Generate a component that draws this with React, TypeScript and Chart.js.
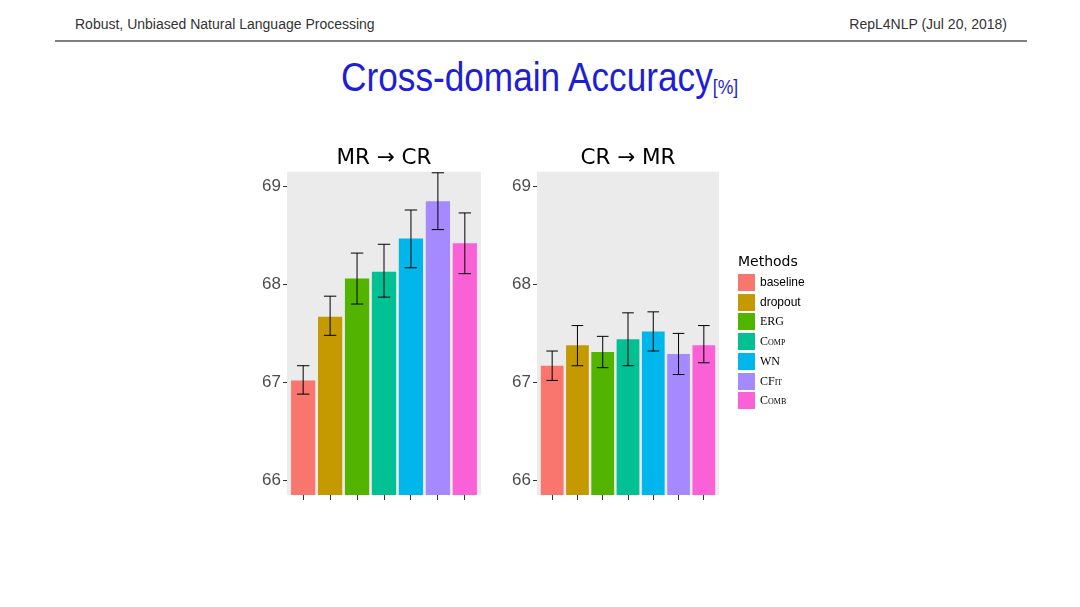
import React, { useEffect, useRef } from "react";
import { Chart, registerables } from "chart.js";

Chart.register(...registerables);

const methods = ["baseline", "dropout", "ERG", "Comp", "WN", "CFit", "Comb"];
const methodSerif = [false, false, true, true, true, true, true];
const methodColors = ["#F8766D", "#C49A00", "#53B400", "#00C094", "#00B6EB", "#A58AFF", "#FB61D7"];

const mrToCrMean = [67.02, 67.67, 68.06, 68.13, 68.47, 68.85, 68.42];
const mrToCrLow = [66.88, 67.48, 67.8, 67.87, 68.17, 68.56, 68.11];
const mrToCrHigh = [67.17, 67.88, 68.32, 68.41, 68.76, 69.14, 68.73];

const crToMrMean = [67.17, 67.38, 67.31, 67.44, 67.52, 67.29, 67.38];
const crToMrLow = [67.02, 67.17, 67.15, 67.17, 67.32, 67.08, 67.2];
const crToMrHigh = [67.32, 67.58, 67.47, 67.71, 67.72, 67.5, 67.58];

const yTicks = [66, 67, 68, 69];
const yMin = 65.85;
const yMax = 69.15;

const panelBackground = {
  id: "panelBackground",
  beforeDraw(chart: any) {
    const { ctx, chartArea } = chart;
    ctx.save();
    ctx.fillStyle = "#EBEBEB";
    ctx.fillRect(chartArea.left, chartArea.top, chartArea.right - chartArea.left, chartArea.bottom - chartArea.top);
    ctx.restore();
  },
};

const errorBars = {
  id: "errorBars",
  afterDatasetsDraw(chart: any, _args: any, opts: any) {
    const { ctx } = chart;
    const x = chart.scales.x;
    const y = chart.scales.y;
    const low: number[] = opts.low || [];
    const high: number[] = opts.high || [];
    ctx.save();
    ctx.strokeStyle = "#000000";
    ctx.lineWidth = 1;
    low.forEach((lo, i) => {
      const cx = x.getPixelForValue(i + 1);
      const hw = x.getPixelForValue(i + 1 + 0.23) - cx;
      const yl = y.getPixelForValue(lo);
      const yh = y.getPixelForValue(high[i]);
      ctx.beginPath();
      ctx.moveTo(cx, yl);
      ctx.lineTo(cx, yh);
      ctx.moveTo(cx - hw, yl);
      ctx.lineTo(cx + hw, yl);
      ctx.moveTo(cx - hw, yh);
      ctx.lineTo(cx + hw, yh);
      ctx.stroke();
    });
    ctx.restore();
  },
};

function Panel(props: {
  title: string;
  mean: number[];
  low: number[];
  high: number[];
  left: number;
  top: number;
  width: number;
  height: number;
  pad: number;
}) {
  const ref = useRef<HTMLCanvasElement | null>(null);
  useEffect(() => {
    if (!ref.current) return;
    const chart = new Chart(ref.current, {
      type: "bar",
      data: {
        datasets: [
          {
            data: props.mean.map((v, i) => ({ x: i + 1, y: v })),
            backgroundColor: methodColors,
            borderWidth: 0,
            categoryPercentage: 1,
            barPercentage: 0.9,
          } as any,
        ],
      },
      options: {
        animation: false,
        responsive: false,
        layout: { padding: { left: props.pad, right: props.pad, top: 0, bottom: 0 } },
        plugins: {
          legend: { display: false },
          tooltip: { enabled: false },
          title: {
            display: true,
            text: props.title,
            color: "#000000",
            font: { family: "DejaVu Sans", size: 21.5, weight: "normal" },
            padding: { top: 6, bottom: 0 },
          },
          errorBars: { low: props.low, high: props.high },
        } as any,
        scales: {
          x: {
            type: "linear",
            min: 0.4,
            max: 7.6,
            offset: false,
            afterBuildTicks: (scale: any) => {
              scale.ticks = props.mean.map((_v, i) => ({ value: i + 1 }));
            },
            afterFit: (scale: any) => {
              scale.height = 17;
            },
            ticks: { callback: () => "", padding: 0, font: { size: 1 } },
            grid: { drawOnChartArea: false, drawTicks: true, tickLength: 5, color: "#333333", offset: false },
            border: { display: false },
          },
          y: {
            type: "linear",
            position: "left",
            min: yMin,
            max: yMax,
            afterBuildTicks: (scale: any) => {
              scale.ticks = yTicks.map((v) => ({ value: v }));
            },
            afterFit: (scale: any) => {
              scale.width = 40;
            },
            ticks: {
              color: "#4D4D4D",
              font: { family: "Liberation Sans", size: 17 },
              padding: 2,
            },
            grid: { drawOnChartArea: false, drawTicks: true, tickLength: 4, color: "#333333" },
            border: { display: false },
          },
          yRight: {
            type: "linear",
            position: "right",
            min: yMin,
            max: yMax,
            afterFit: (scale: any) => {
              scale.width = 40;
            },
            ticks: { display: false },
            grid: { display: false },
            border: { display: false },
          },
        },
      } as any,
      plugins: [panelBackground, errorBars],
    });
    return () => chart.destroy();
  }, []);
  return (
    <canvas
      ref={ref}
      width={props.width}
      height={props.height}
      style={{ position: "absolute", left: props.left, top: props.top, width: props.width, height: props.height }}
    />
  );
}

export default function App() {
  const legendTop = 274;
  const legendPitch = 19.7;
  return (
    <div
      style={{
        position: "fixed",
        left: 0,
        top: 0,
        width: 1080,
        height: 607,
        background: "#ffffff",
        overflow: "hidden",
      }}
    >
      <div
        style={{
          position: "absolute",
          left: 75,
          top: 16,
          fontFamily: "Liberation Sans",
          fontSize: 14,
          lineHeight: "16px",
          color: "#333333",
          whiteSpace: "nowrap",
        }}
      >
        Robust, Unbiased Natural Language Processing
      </div>
      <div
        style={{
          position: "absolute",
          right: 1080 - 1007,
          top: 16,
          fontFamily: "Liberation Sans",
          fontSize: 14,
          lineHeight: "16px",
          color: "#333333",
          whiteSpace: "nowrap",
        }}
      >
        RepL4NLP (Jul 20, 2018)
      </div>
      <div style={{ position: "absolute", left: 55, top: 40, width: 972, height: 1.5, background: "#808080" }} />
      <div
        style={{
          position: "absolute",
          left: 0,
          top: 57,
          width: 1080,
          textAlign: "center",
          fontFamily: "Liberation Sans",
          lineHeight: "40px",
          color: "#1E1ED2",
          whiteSpace: "nowrap",
        }}
      >
        <span style={{ display: "inline-block", transform: "scaleX(0.88)", transformOrigin: "center" }}>
          <span style={{ fontSize: 40 }}>Cross-domain Accuracy</span>
          <span style={{ fontSize: 20, verticalAlign: "-3px" }}>[%]</span>
        </span>
      </div>

      <Panel
        title="MR → CR"
        mean={mrToCrMean}
        low={mrToCrLow}
        high={mrToCrHigh}
        left={235}
        top={140}
        width={298}
        height={372}
        pad={12}
      />
      <Panel
        title="CR → MR"
        mean={crToMrMean}
        low={crToMrLow}
        high={crToMrHigh}
        left={485}
        top={140}
        width={286}
        height={372}
        pad={12}
      />

      <div
        style={{
          position: "absolute",
          left: 738,
          top: 252,
          fontFamily: "DejaVu Sans",
          fontSize: 14,
          lineHeight: "18px",
          color: "#000000",
        }}
      >
        Methods
      </div>
      {methods.map((m, i) => (
        <div key={m}>
          <div
            style={{
              position: "absolute",
              left: 738,
              top: legendTop + i * legendPitch,
              width: 17,
              height: 17,
              background: methodColors[i],
            }}
          />
          <div
            style={{
              position: "absolute",
              left: 760,
              top: legendTop + i * legendPitch,
              height: 17,
              lineHeight: "17px",
              fontFamily: methodSerif[i] ? "Liberation Serif" : "Liberation Sans",
              fontVariant: methodSerif[i] ? "small-caps" : "normal",
              fontSize: 12,
              color: "#000000",
              whiteSpace: "nowrap",
            }}
          >
            {m}
          </div>
        </div>
      ))}
    </div>
  );
}
